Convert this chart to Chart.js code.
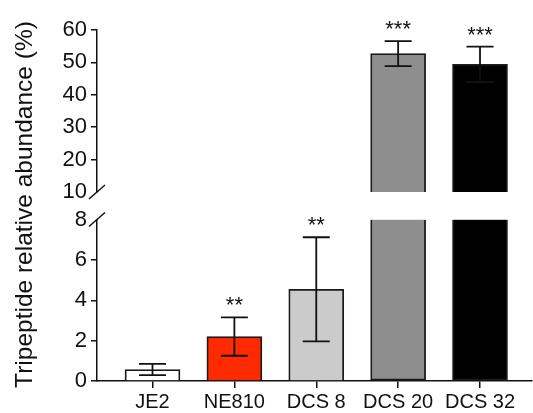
<!DOCTYPE html>
<html>
<head>
<meta charset="utf-8">
<script src="https://cdn.jsdelivr.net/npm/chart.js@4"></script>
<style>
  body { margin: 0; background: #fff; }
</style>
</head>
<body>
<canvas id="abundanceChart" width="533" height="413"></canvas>
<script>
const strains = ['JE2', 'NE810', 'DCS 8', 'DCS 20', 'DCS 32']
const abundance = [0.57, 2.2, 4.54, 52.7, 49.4]
const abundanceSD = [0.28, 0.95, 2.58, 3.85, 5.45]
const significance = ['', '**', '**', '***', '***']
const barColors = ['#ffffff', '#ff2a00', '#cbcbcb', '#8e8e8e', '#000000']
const lowerTicks = [0, 2, 4, 6, 8]
const upperTicks = [10, 20, 30, 40, 50, 60]

const breakLow = lowerTicks[lowerTicks.length - 1]
const breakHigh = upperTicks[0]
const FONT = 'Arial, "Liberation Sans", sans-serif'
const INK = '#111'

// lower part of every bar, cut at the axis break
const lowerData = strains.map((s, i) => ({x: i, y: Math.min(abundance[i], breakLow)}))
// upper part only for the bars that go past the break
const upperData = []
strains.forEach((s, i) => {
    if (abundance[i] > breakHigh) upperData.push({x: i, y: [breakHigh, abundance[i]]})
})

const fixWidth = axis => { axis.width = 97 }

const extras = {
    id: 'extras',
    afterDatasetsDraw(chart) {
        const ctx = chart.ctx
        const x = chart.scales.x
        const yBot = chart.scales.yBot
        const yTop = chart.scales.yTop
        ctx.save()
        ctx.strokeStyle = INK
        ctx.lineWidth = 1.8
        abundance.forEach((v, i) => {
            const y = v > breakLow ? yTop : yBot
            const cx = x.getPixelForValue(i)
            const hi = y.getPixelForValue(v + abundanceSD[i])
            const lo = y.getPixelForValue(v - abundanceSD[i])
            ctx.beginPath()
            ctx.moveTo(cx, hi); ctx.lineTo(cx, lo)
            ctx.moveTo(cx - 13.5, hi); ctx.lineTo(cx + 13.5, hi)
            ctx.moveTo(cx - 13.5, lo); ctx.lineTo(cx + 13.5, lo)
            ctx.stroke()
            if (significance[i]) {
                ctx.fillStyle = INK
                ctx.font = '22px ' + FONT
                ctx.textAlign = 'center'
                ctx.textBaseline = 'alphabetic'
                ctx.fillText(significance[i], cx, hi - 5)
            }
        })
        // axis break marks
        ctx.lineWidth = 1.5
        ctx.beginPath()
        ;[yTop.bottom, yBot.top].forEach(by => {
            ctx.moveTo(x.left - 8, by + 7)
            ctx.lineTo(x.left + 8, by - 7)
        })
        ctx.stroke()
        // y title over the full broken axis
        ctx.translate(25, (yTop.top + yBot.bottom) / 2 - 1)
        ctx.rotate(-Math.PI / 2)
        ctx.fillStyle = INK
        ctx.font = '24.5px ' + FONT
        ctx.textAlign = 'center'
        ctx.textBaseline = 'middle'
        ctx.fillText('Tripeptide relative abundance (%)', 0, 0)
        ctx.restore()
    }
}

const yTickStyle = {
    color: INK,
    font: {family: FONT, size: 22},
    padding: 4,
    autoSkip: false
}

new Chart(document.getElementById('abundanceChart'), {
    type: 'bar',
    data: {
        datasets: [{
            data: lowerData,
            yAxisID: 'yBot',
            backgroundColor: barColors,
            borderColor: '#1a1a1a',
            borderWidth: 1.8,
            borderSkipped: c => abundance[c.dataIndex] > breakLow ? 'top' : 'bottom',
            barThickness: 55,
            grouped: false
        }, {
            data: upperData,
            yAxisID: 'yTop',
            backgroundColor: upperData.map(d => barColors[d.x]),
            borderColor: '#1a1a1a',
            borderWidth: 1.8,
            borderSkipped: 'bottom',
            barThickness: 55,
            grouped: false
        }]
    },
    options: {
        responsive: false,
        animation: false,
        layout: {padding: {top: 30, right: 1, left: 0, bottom: 0}},
        plugins: {legend: {display: false}, tooltip: {enabled: false}},
        scales: {
            x: {
                type: 'linear',
                offset: false,
                min: -0.678,
                max: 4.635,
                afterBuildTicks: axis => { axis.ticks = strains.map((s, i) => ({value: i})) },
                afterFit: axis => { axis.height = 32 },
                ticks: {
                    color: INK,
                    font: {family: FONT, size: 20},
                    padding: 2,
                    maxRotation: 0,
                    autoSkip: false,
                    callback: v => strains[v]
                },
                grid: {offset: false, drawOnChartArea: false, tickLength: 7, color: INK, lineWidth: 1.5},
                border: {color: INK, width: 1.5}
            },
            yTop: {
                type: 'linear',
                position: 'left',
                stack: 'broken',
                stackWeight: 162,
                weight: 3,
                min: breakHigh,
                max: upperTicks[upperTicks.length - 1],
                afterBuildTicks: axis => { axis.ticks = upperTicks.map(v => ({value: v})) },
                afterFit: fixWidth,
                ticks: yTickStyle,
                grid: {
                    drawOnChartArea: false,
                    tickLength: 6,
                    lineWidth: 1.5,
                    color: c => c.tick && c.tick.value === breakHigh ? 'rgba(0,0,0,0)' : INK
                },
                border: {color: INK, width: 1.5}
            },
            yGap: {
                type: 'linear',
                position: 'left',
                stack: 'broken',
                stackWeight: 27.5,
                weight: 2,
                min: 0,
                max: 1,
                afterFit: fixWidth,
                ticks: {display: false},
                grid: {display: false},
                border: {display: false}
            },
            yBot: {
                type: 'linear',
                position: 'left',
                stack: 'broken',
                stackWeight: 161.5,
                weight: 1,
                min: lowerTicks[0],
                max: breakLow,
                afterBuildTicks: axis => { axis.ticks = lowerTicks.map(v => ({value: v})) },
                afterFit: fixWidth,
                ticks: yTickStyle,
                grid: {
                    drawOnChartArea: false,
                    tickLength: 6,
                    lineWidth: 1.5,
                    color: c => c.tick && c.tick.value === breakLow ? 'rgba(0,0,0,0)' : INK
                },
                border: {color: INK, width: 1.5}
            }
        }
    },
    plugins: [extras]
})
</script>
</body>
</html>
